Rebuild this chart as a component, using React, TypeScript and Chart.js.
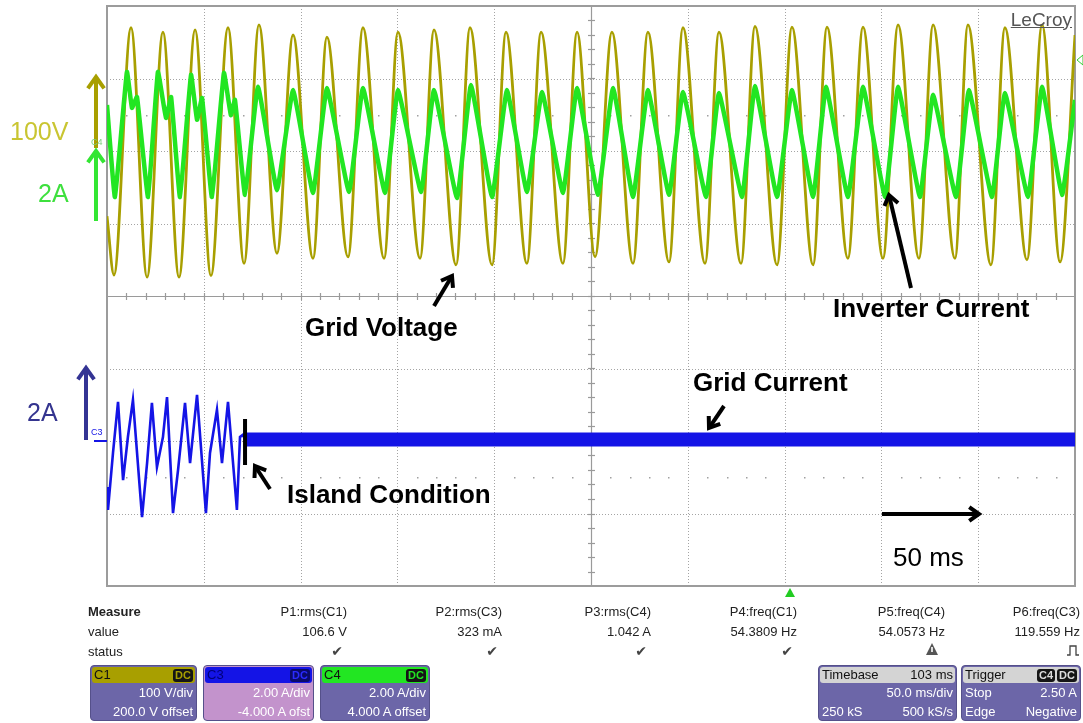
import React, { useEffect, useRef } from "react";
import { Chart, registerables } from "chart.js";
Chart.register(...registerables);

// ---- Channel C1: grid voltage (time in ms, volts) – peaks / troughs
const C1_TIME_MS = [0, 3.6, 12.4, 20.7, 28.9, 37.2, 45.5, 53.7, 62.5, 70.8, 78.5, 87.8, 96.1, 106.4, 113.6, 124.5, 132.2, 143.1, 150.3, 161.7, 168.9, 180.3, 187.5, 198.9, 206.1, 216.9, 224.2, 235.5, 242.8, 252.1, 260.8, 271.7, 279.4, 290.3, 297.5, 308.9, 316.1, 327.5, 334.7, 346.1, 353.8, 364.7, 371.9, 382.7, 390.5, 400.8, 408.6, 419.4, 426.7, 438.0, 444.7, 456.6, 463.8, 475.2, 483.0, 492.3, 500];
const C1_VOLTS = [-90, -171, 170, -174, 164, -174, 167, -172, 170, -155, 174, -141, 160, -148, 157, -146, 170, -148, 164, -148, 167, -157, 170, -157, 164, -155, 164, -155, 164, -146, 164, -155, 164, -153, 170, -155, 164, -155, 172, -157, 171, -157, 171, -148, 171, -148, 174, -148, 174, -148, 174, -157, 170, -150, 174, -153, 160];

// ---- Channel C4: inverter current (ms, A)
const C4_TIME_MS = [0, 4.1, 10.3, 12.9, 15.5, 21.2, 26.3, 30.5, 33.1, 37.7, 43.4, 46.5, 49.1, 54.2, 60.4, 64.0, 66.1, 71.3, 78.0, 87.8, 96.1, 106.4, 113.6, 125.0, 132.2, 143.6, 150.3, 162.2, 168.9, 180.8, 188.0, 198.9, 206.6, 216.9, 224.7, 235.5, 242.8, 253.6, 261.4, 271.7, 279.4, 290.3, 297.5, 309.4, 316.1, 328.0, 334.7, 346.1, 353.8, 364.7, 371.4, 382.7, 390.5, 401.9, 408.6, 419.9, 426.7, 438.5, 445.2, 457.1, 463.8, 475.7, 483.0, 493.3, 500];
const C4_AMPS = [1.27, -1.27, 2.18, 1.19, 1.49, -1.27, 2.18, 0.91, 1.49, -1.27, 2.10, 0.86, 1.46, -1.27, 2.15, 0.99, 1.41, -1.21, 1.77, -1.08, 1.68, -1.16, 1.74, -1.13, 1.74, -1.16, 1.68, -1.13, 1.68, -1.30, 1.82, -1.27, 1.68, -1.13, 1.63, -1.16, 1.74, -1.21, 1.74, -1.27, 1.68, -1.21, 1.63, -1.27, 1.60, -1.27, 1.79, -1.27, 1.68, -1.27, 1.77, -1.27, 1.77, -1.27, 1.77, -1.27, 1.55, -1.27, 1.68, -1.27, 1.60, -1.27, 1.77, -1.21, 1.41];

// ---- Channel C3: grid current before islanding (ms, A)
const C3_TIME_MS = [0, 0.5, 3.1, 5.7, 8.3, 10.8, 13.4, 18.1, 20.7, 23.2, 25.8, 28.9, 31.0, 34.1, 36.7, 40.3, 42.9, 46.5, 51.1, 53.2, 56.8, 59.4, 62.5, 67.1, 68.7, 70.2, 71.3];
const C3_AMPS = [-1.27, -1.90, -0.33, 1.08, -1.08, 0.11, 1.13, -2.10, -0.61, 1.05, -0.72, 0.11, 1.21, -1.99, -0.80, 1.05, -0.61, 1.27, -1.99, -0.33, 0.86, -0.61, 1.08, -1.90, 0.11, 0.17, 0.04];
// after islanding: flat noisy band
const C3_ISLAND_TIME_MS = [71.3, 500];
const C3_ISLAND_AMPS = [0.04, 0.04];
// island instant marker
const ISLAND_MARK_TIME_MS = [71.3, 71.3];
const ISLAND_MARK_AMPS = [0.61, -0.66];

// ---- grid
const GRID_TIME_MS = [0, 50, 100, 150, 200, 250, 300, 350, 400, 450, 500];
const GRID_DIVS = [-4, -3, -2, -1, 0, 1, 2, 3, 4];

// ---- measurement panel
const MEASURE_NAMES = ["P1:rms(C1)", "P2:rms(C3)", "P3:rms(C4)", "P4:freq(C1)", "P5:freq(C4)", "P6:freq(C3)"];
const MEASURE_VALUES = ["106.6 V", "323 mA", "1.042 A", "54.3809 Hz", "54.0573 Hz", "119.559 Hz"];
const MEASURE_RIGHT = [347, 502, 651, 797, 945, 1080];

const OLIVE = "#a89f00";
const GREEN = "#22e622";
const BLUE = "#1414e6";
const PURPLE = "#6c66a8";
const FONT = '"Liberation Sans", Arial, sans-serif';

const pts = (xs: number[], ys: number[]) => xs.map((x, i) => ({ x, y: ys[i] }));

const scopeGrid = {
  id: "scopeGrid",
  beforeDatasetsDraw(chart: any) {
    const { ctx, chartArea: a } = chart;
    const xs = chart.scales.x;
    const ys = chart.scales.yDiv;
    const xc = Math.round(xs.getPixelForValue(250)) + 0.5;
    const yc = Math.round(ys.getPixelForValue(0)) + 0.5;
    const seg = (x1: number, y1: number, x2: number, y2: number) => {
      ctx.beginPath();
      ctx.moveTo(x1, y1);
      ctx.lineTo(x2, y2);
      ctx.stroke();
    };
    ctx.save();
    ctx.strokeStyle = "#a4a4a4";
    ctx.lineWidth = 1;
    ctx.setLineDash([1, 2]);
    GRID_TIME_MS.forEach((t) => {
      if (t === 0 || t === 500 || t === 250) return;
      const px = Math.round(xs.getPixelForValue(t)) + 0.5;
      seg(px, a.top, px, a.bottom);
    });
    GRID_DIVS.forEach((d) => {
      if (d === 0 || Math.abs(d) === 4) return;
      const py = Math.round(ys.getPixelForValue(d)) + 0.5;
      seg(a.left, py, a.right, py);
    });
    ctx.setLineDash([]);
    ctx.strokeStyle = "#9a9a9a";
    ctx.lineWidth = 1.2;
    seg(xc, a.top, xc, a.bottom);
    seg(a.left, yc, a.right, yc);
    for (let t = 10; t < 500; t += 10) {
      const px = Math.round(xs.getPixelForValue(t)) + 0.5;
      seg(px, yc - 3.5, px, yc + 3.5);
    }
    for (let d = -3.8; d < 4; d += 0.2) {
      const py = Math.round(ys.getPixelForValue(d)) + 0.5;
      seg(xc - 3.5, py, xc + 3.5, py);
    }
    ctx.fillStyle = "#a0a0a0";
    [-2.5, 2.5].forEach((d) => {
      const py = Math.round(ys.getPixelForValue(d));
      for (let t = 10; t < 500; t += 10) {
        if (t % 50 === 0) continue;
        const px = Math.round(xs.getPixelForValue(t));
        ctx.fillRect(px, py, 1.5, 1.5);
      }
    });
    ctx.strokeStyle = "#9c9c9c";
    ctx.lineWidth = 2;
    ctx.strokeRect(a.left, a.top, a.right - a.left, a.bottom - a.top);
    ctx.restore();
  },
};

function ScopeChart() {
  const ref = useRef<HTMLCanvasElement | null>(null);
  useEffect(() => {
    if (!ref.current) return;
    const chart = new Chart(ref.current, {
      type: "line",
      data: {
        datasets: [
          {
            label: "island",
            data: pts(ISLAND_MARK_TIME_MS, ISLAND_MARK_AMPS),
            yAxisID: "yC3",
            borderColor: "#000",
            borderWidth: 4,
            pointRadius: 0,
            tension: 0,
          },
          {
            label: "C4",
            data: pts(C4_TIME_MS, C4_AMPS),
            yAxisID: "yC4",
            borderColor: GREEN,
            borderWidth: 4.5,
            pointRadius: 0,
            tension: 0.1,
          },
          {
            label: "C1",
            data: pts(C1_TIME_MS, C1_VOLTS),
            yAxisID: "yC1",
            borderColor: OLIVE,
            borderWidth: 2.8,
            pointRadius: 0,
            cubicInterpolationMode: "monotone",
          },
          {
            label: "C3 island",
            data: pts(C3_ISLAND_TIME_MS, C3_ISLAND_AMPS),
            yAxisID: "yC3",
            borderColor: BLUE,
            borderWidth: 14,
            borderCapStyle: "butt",
            pointRadius: 0,
          },
          {
            label: "C3",
            data: pts(C3_TIME_MS, C3_AMPS),
            yAxisID: "yC3",
            borderColor: BLUE,
            borderWidth: 2.6,
            pointRadius: 0,
            tension: 0,
          },
        ],
      },
      options: {
        responsive: false,
        animation: false,
        devicePixelRatio: 1,
        clip: 0,
        layout: { padding: { left: 107, top: 6, right: 8, bottom: 14 } },
        plugins: { legend: { display: false }, tooltip: { enabled: false } },
        scales: {
          x: { type: "linear", min: 0, max: 500, display: false },
          yDiv: { type: "linear", min: -4, max: 4, display: false },
          yC1: { type: "linear", min: -600, max: 200, display: false },
          yC4: { type: "linear", min: -12, max: 4, display: false },
          yC3: { type: "linear", min: -4, max: 12, display: false },
        },
      } as any,
      plugins: [scopeGrid],
    } as any);
    return () => chart.destroy();
  }, []);
  return <canvas ref={ref} width={1083} height={600} style={{ position: "absolute", left: 0, top: 0 }} />;
}

type TProps = { x: number; y: number; s: number; bold?: boolean; color?: string; right?: boolean; children: React.ReactNode; style?: React.CSSProperties };
function T({ x, y, s, bold, color = "#000", right, children, style }: TProps) {
  const st: React.CSSProperties = {
    position: "absolute",
    top: y - s / 2,
    fontSize: s,
    lineHeight: `${s}px`,
    fontWeight: bold ? 700 : 400,
    color,
    whiteSpace: "nowrap",
    ...(right ? { right: 1083 - x } : { left: x }),
    ...style,
  };
  return <div style={st}>{children}</div>;
}

function Arrow({ x1, y1, x2, y2, color = "#000", w = 4, h = 12 }: { x1: number; y1: number; x2: number; y2: number; color?: string; w?: number; h?: number }) {
  const ang = Math.atan2(y2 - y1, x2 - x1);
  const sp = 0.62;
  const ax = x2 - h * Math.cos(ang - sp);
  const ay = y2 - h * Math.sin(ang - sp);
  const bx = x2 - h * Math.cos(ang + sp);
  const by = y2 - h * Math.sin(ang + sp);
  const tx = x2 - 1.5 * Math.cos(ang);
  const ty = y2 - 1.5 * Math.sin(ang);
  return (
    <g stroke={color} strokeWidth={w} fill="none">
      <line x1={x1} y1={y1} x2={tx} y2={ty} />
      <polyline points={`${ax},${ay} ${x2},${y2} ${bx},${by}`} strokeLinejoin="miter" />
    </g>
  );
}

function Badge({ text, bg, color }: { text: string; bg: string; color: string }) {
  return (
    <span style={{ background: bg, color, borderRadius: 3, padding: "0 2px", fontSize: 11, lineHeight: "13px", fontWeight: 700, display: "inline-block" }}>{text}</span>
  );
}

type BoxProps = { left: number; width: number; headBg: string; headColor: string; head: string; headRight?: React.ReactNode; bodyBg: string; rows: [string, string][] };
function Box({ left, width, headBg, headColor, head, headRight, bodyBg, rows }: BoxProps) {
  return (
    <div style={{ position: "absolute", left, top: 665, width, height: 56, background: bodyBg, borderRadius: 4, border: "1px solid #55508a", boxSizing: "border-box", overflow: "hidden", fontFamily: FONT }}>
      <div style={{ height: 16, margin: "1px 1px 0 1px", background: headBg, borderRadius: 3, display: "flex", alignItems: "center", justifyContent: "space-between", padding: "0 2px", color: headColor, fontSize: 13, lineHeight: "16px" }}>
        <span>{head}</span>
        <span style={{ display: "flex", gap: 2, alignItems: "center" }}>{headRight}</span>
      </div>
      {rows.map((r, i) => (
        <div key={i} style={{ height: 19, display: "flex", alignItems: "center", justifyContent: "space-between", padding: "0 3px", color: "#fff", fontSize: 13, lineHeight: "19px" }}>
          <span>{r[0]}</span>
          <span>{r[1]}</span>
        </div>
      ))}
    </div>
  );
}

export default function App() {
  return (
    <div style={{ position: "fixed", left: 0, top: 0, width: 1083, height: 723, background: "#fff", overflow: "hidden", fontFamily: FONT }}>
      <ScopeChart />
      <svg width={1083} height={723} style={{ position: "absolute", left: 0, top: 0, pointerEvents: "none" }}>
        <Arrow x1={96} y1={148} x2={96} y2={77} color={OLIVE} w={4} h={14} />
        <Arrow x1={96} y1={221} x2={96} y2={151} color="#33e633" w={4} h={14} />
        <Arrow x1={86} y1={440} x2={86} y2={368} color="#343494" w={4} h={14} />
        <line x1={94} y1={441} x2={107} y2={441} stroke={BLUE} strokeWidth={2} />
        <Arrow x1={434} y1={306} x2={452} y2={276} />
        <Arrow x1={911} y1={288} x2={889} y2={195} />
        <Arrow x1={724} y1={406} x2={709} y2={428} />
        <Arrow x1={270} y1={489} x2={255} y2={466} />
        <Arrow x1={882} y1={514} x2={979} y2={514} />
        <polygon points="1083,55 1077,60 1083,65" fill="none" stroke="#3c3" strokeWidth={1} />
        <polygon points="785,597 790,588 795,597" fill="#22cc22" />
        <polygon points="932,643 926,655 938,655" fill="#555" />
        <rect x={931.2} y={647} width={1.6} height={5} fill="#fff" />
        <polyline points="1067,655 1070,655 1070,646 1076,646 1076,655 1079,655" fill="none" stroke="#444" strokeWidth={1.3} />
      </svg>

      <T x={10} y={131} s={25} color="#c9c531">100V</T>
      <T x={38} y={193} s={25} color="#3ee03e">2A</T>
      <T x={27} y={412} s={25} color="#34348f">2A</T>
      <T x={91} y={142} s={9} color="#7ccf7c">C4</T>
      <T x={91} y={432} s={9} color={BLUE}>C3</T>
      <T x={1072} y={19} s={19} color="#555" right style={{ textDecoration: "underline" }}>LeCroy</T>

      <T x={305} y={327} s={26} bold>Grid Voltage</T>
      <T x={833} y={308} s={26} bold>Inverter Current</T>
      <T x={693} y={382} s={26} bold>Grid Current</T>
      <T x={287} y={494} s={26} bold>Island Condition</T>
      <T x={893} y={557} s={26}>50 ms</T>

      <T x={88} y={611} s={13} bold color="#222">Measure</T>
      <T x={88} y={631} s={13} color="#222">value</T>
      <T x={88} y={651} s={13} color="#222">status</T>
      {MEASURE_NAMES.map((n, i) => (
        <T key={n} x={MEASURE_RIGHT[i]} y={611} s={13} color="#222" right>{n}</T>
      ))}
      {MEASURE_VALUES.map((v, i) => (
        <T key={v} x={MEASURE_RIGHT[i]} y={631} s={13} color="#222" right>{v}</T>
      ))}
      {[0, 1, 2, 3].map((i) => (
        <T key={i} x={MEASURE_RIGHT[i] - 4} y={651} s={14} color="#444" right style={{ fontFamily: '"DejaVu Sans", sans-serif' }}>✔</T>
      ))}

      <Box left={90} width={107} headBg={OLIVE} headColor="#111" head="C1" headRight={<Badge text="DC" bg="#151515" color={OLIVE} />} bodyBg={PURPLE} rows={[["", "100 V/div"], ["", "200.0 V offset"]]} />
      <Box left={203} width={111} headBg={BLUE} headColor="#00007a" head="C3" headRight={<Badge text="DC" bg="#0a0a6a" color="#2a2aff" />} bodyBg="#c393cc" rows={[["", "2.00 A/div"], ["", "-4.000 A ofst"]]} />
      <Box left={320} width={110} headBg={GREEN} headColor="#111" head="C4" headRight={<Badge text="DC" bg="#151515" color={GREEN} />} bodyBg={PURPLE} rows={[["", "2.00 A/div"], ["", "4.000 A offset"]]} />
      <Box left={818} width={139} headBg="#d4d4d4" headColor="#111" head="Timebase" headRight={<span>103 ms</span>} bodyBg={PURPLE} rows={[["", "50.0 ms/div"], ["250 kS", "500 kS/s"]]} />
      <Box left={961} width={120} headBg="#d4d4d4" headColor="#111" head="Trigger" headRight={<><Badge text="C4" bg="#151515" color="#ddd" /><Badge text="DC" bg="#151515" color="#ddd" /></>} bodyBg={PURPLE} rows={[["Stop", "2.50 A"], ["Edge", "Negative"]]} />
    </div>
  );
}
